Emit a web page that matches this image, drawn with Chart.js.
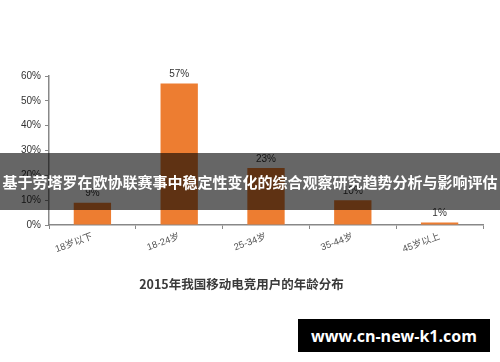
<!DOCTYPE html>
<html>
<head>
<meta charset="utf-8">
<script src="https://cdn.jsdelivr.net/npm/chart.js@4"></script>
<style>
    html, body { margin: 0; padding: 0; background: #fff; }
    #wrap { position: relative; width: 500px; height: 362px; overflow: hidden; }
    #banner {
        position: absolute; left: 0; top: 153px; width: 500px; height: 57px;
        background: rgba(0,0,0,0.6); color: #fff;
        font: bold 15px "Noto Sans CJK SC", sans-serif;
        display: flex; align-items: center; justify-content: center;
        white-space: nowrap;
    }
    #mark {
        position: absolute; left: 298px; top: 319px; width: 192px; height: 33px;
        background: #000; color: #fff;
        font: bold 16px "Open Sans", "DejaVu Sans", sans-serif;
        display: flex; align-items: center; justify-content: center;
    }
</style>
</head>
<body>
<div id="wrap">
    <canvas id="ageChart" width="500" height="362"></canvas>
    <div id="banner">基于劳塔罗在欧协联赛事中稳定性变化的综合观察研究趋势分析与影响评估</div>
    <div id="mark">www.cn-new-k1.com</div>
</div>
<script>
const ageGroups = ["18岁以下", "18-24岁", "25-34岁", "35-44岁", "45岁以上"];
const userShare = [9, 57, 23, 10, 1];
const yTicks = [0, 10, 20, 30, 40, 50, 60];
const chartTitle = "2015年我国移动电竞用户的年龄分布";

const valueLabels = {
    id: "valueLabels",
    afterDatasetsDraw(chart) {
        const ctx = chart.ctx;
        const meta = chart.getDatasetMeta(0);
        ctx.save();
        ctx.font = "10px 'Liberation Sans', sans-serif";
        ctx.fillStyle = "#333";
        ctx.textAlign = "center";
        ctx.textBaseline = "bottom";
        meta.data.forEach((bar, i) => {
            ctx.fillText(userShare[i] + "%", bar.x, bar.y - 4);
        });
        ctx.restore();
    }
};

new Chart(document.getElementById("ageChart"), {
    type: "bar",
    data: {
        labels: ageGroups,
        datasets: [{
            data: userShare,
            backgroundColor: "#ED7D31",
            barPercentage: 0.43,
            categoryPercentage: 1
        }]
    },
    options: {
        responsive: false,
        animation: false,
        layout: { padding: { top: 76, right: 17, bottom: 70, left: 0 } },
        plugins: {
            legend: { display: false },
            tooltip: { enabled: false },
            title: {
                display: true,
                position: "bottom",
                text: chartTitle,
                color: "#3a3a3a",
                font: { family: "'Noto Sans CJK SC', sans-serif", size: 12.5, weight: "bold" },
                padding: { top: 12, bottom: 0 }
            }
        },
        scales: {
            x: {
                grid: { drawOnChartArea: false, color: "#888", tickLength: 4 },
                border: { color: "#888", width: 1.5 },
                ticks: {
                    color: "#555",
                    minRotation: 20,
                    maxRotation: 20,
                    padding: 2,
                    font: { family: "'Liberation Sans', 'Noto Sans CJK SC', sans-serif", size: 9.5 }
                },
                afterFit(scale) { scale.height = 40; }
            },
            y: {
                min: 0,
                max: 60,
                afterBuildTicks(scale) { scale.ticks = yTicks.map(v => ({ value: v })); },
                grid: { drawOnChartArea: false, color: "#888", tickLength: 4 },
                border: { color: "#888", width: 1.5 },
                ticks: {
                    color: "#333",
                    padding: 4,
                    font: { family: "'Liberation Sans', sans-serif", size: 10 },
                    callback: v => v + "%"
                },
                afterFit(scale) { scale.width = 49; }
            }
        }
    },
    plugins: [valueLabels]
});
</script>
</body>
</html>
